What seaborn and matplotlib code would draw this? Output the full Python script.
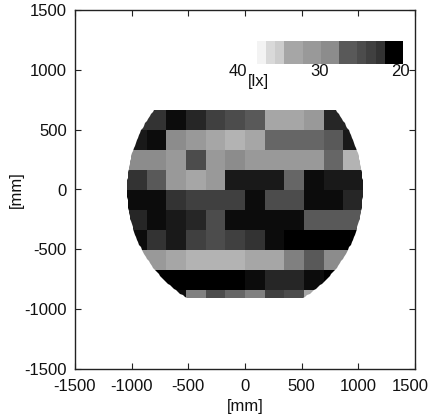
import numpy as np
import pandas as pd
import matplotlib
matplotlib.use("Agg")
import matplotlib.pyplot as plt
from matplotlib.path import Path
from matplotlib.transforms import ScaledTranslation
import seaborn as sns

# illuminance per cell [lx], top row first
row0 = [24, 24, 21, 23, 25, 26, 27, 33, 33, 32, 23, 23]
row1 = [22, 21, 31, 32, 33, 34, 33, 28, 28, 28, 27, 22]
row2 = [31, 31, 32, 26, 32, 31, 32, 32, 32, 32, 28, 34]
row3 = [24, 27, 32, 33, 32, 22, 22, 22, 28, 21, 22, 22]
row4 = [21, 21, 24, 25, 25, 25, 21, 26, 26, 21, 21, 23]
row5 = [23, 21, 22, 23, 26, 21, 21, 21, 21, 27, 27, 27]
row6 = [21, 24, 22, 25, 26, 25, 24, 21, 20, 20, 20, 20]
row7 = [32, 32, 33, 34, 34, 34, 33, 33, 30, 27, 31, 31]
row8 = [20, 20, 20, 20, 20, 20, 21, 23, 23, 21, 20, 20]
row9 = [21, 21, 21, 30, 26, 28, 30, 25, 26, 33, 30, 30]
rows = [row0, row1, row2, row3, row4, row5, row6, row7, row8, row9]

legend_vals = [39, 37, 36, 33, 33, 32, 32, 31, 31, 27, 27, 26, 25, 24, 20, 20]
axis_ticks = [-1500, -1000, -500, 0, 500, 1000, 1500]
legend_labels = ["40", "30", "20"]

sns.set_style("ticks", {"xtick.direction": "in", "ytick.direction": "in"})
plt.rcParams["font.family"] = ["Liberation Sans", "DejaVu Sans"]
plt.rcParams["font.size"] = 12
plt.rcParams["axes.unicode_minus"] = False

fig = plt.figure(figsize=(4.28, 4.19), dpi=100)
ax = fig.add_axes([75 / 428, 1 - 369 / 419, 340 / 428, 359 / 419])
ax.set_xlim(-1500, 1500)
ax.set_ylim(-1500, 1500)
ax.set_xticks(axis_ticks)
ax.set_yticks(axis_ticks)
ax.tick_params(top=True, right=True, length=4, width=0.8, color="#222222",
               labelsize=12, labelcolor="#111111")
ax.tick_params(axis="x", pad=7)
ax.tick_params(axis="y", pad=6)
for s in ax.spines.values():
    s.set_linewidth(1.0)
    s.set_color("#222222")
ax.set_xlabel("[mm]", fontsize=12, labelpad=4, color="#111111")
ax.set_ylabel("[mm]", fontsize=12, labelpad=0, color="#111111")

# last x label sits a bit to the left so it stays on the page
last = ax.get_xticklabels()[-1]
last.set_transform(last.get_transform() + ScaledTranslation(-4.5 / 100, 0, fig.dpi_scale_trans))

# measured cells, drawn in a sub axes that spans the grid in mm
radius = 1040
top, bottom = 665, -906
cell_h = 167
grid_ax = ax.inset_axes([-radius, top - cell_h * len(rows), 2 * radius, cell_h * len(rows)],
                        transform=ax.transData)
sns.heatmap(pd.DataFrame(rows), ax=grid_ax, cmap="gray", vmin=20, vmax=40, cbar=False,
            xticklabels=False, yticklabels=False)
grid_ax.axis("off")

# only the part of the disc between the two flat edges is measured
ang = np.linspace(np.arcsin(bottom / radius), np.arcsin(top / radius), 80)
right_side = np.column_stack([radius * np.cos(ang), radius * np.sin(ang)])
left_side = right_side[::-1] * [-1, 1]
outline = np.vstack([right_side, left_side, right_side[:1]])
grid_ax.collections[0].set_clip_path(Path(outline), ax.transData)

# grey scale legend
bar_ax = ax.inset_axes([106, 1045, 1288, 195], transform=ax.transData)
sns.heatmap(pd.DataFrame([legend_vals]), ax=bar_ax, cmap="gray", vmin=20, vmax=40, cbar=False,
            xticklabels=False, yticklabels=False)
bar_ax.axis("off")

for x, lab in zip([-60, 660, 1370], legend_labels):
    ax.text(x, 990, lab, ha="center", va="center", fontsize=12, color="#111111")
ax.text(115, 905, "[lx]", ha="center", va="center", fontsize=12, color="#111111")

fig.savefig("out.png", dpi=100)
